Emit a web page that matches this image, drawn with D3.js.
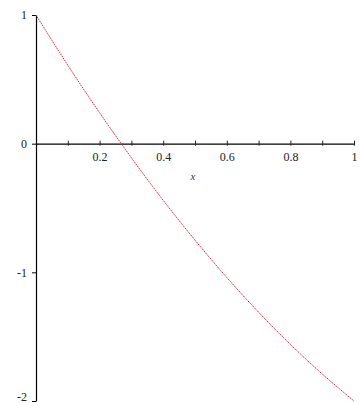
<!DOCTYPE html>
<html>
<head>
<meta charset="utf-8">
<script src="https://cdnjs.cloudflare.com/ajax/libs/d3/7.8.5/d3.min.js"></script>
<style>
  body { margin: 0; background: #fff; }
  svg { display: block; }
</style>
</head>
<body>
<svg></svg>
<script>
// values, every 0.1 in x
var xValues = [0, 0.1, 0.2, 0.3, 0.4, 0.5, 0.6, 0.7, 0.8, 0.9, 1];
var yValues = [1, 0.61, 0.24, -0.11, -0.44, -0.75, -1.04, -1.31, -1.56, -1.79, -2];

// ticks
var xTicks = [0.1, 0.2, 0.3, 0.4, 0.5, 0.6, 0.7, 0.8, 0.9, 1];
var xTickLabels = ["", "0.2", "", "0.4", "", "0.6", "", "0.8", "", "1"];
var yTicks = [1, 0, -1, -2];
var yTickLabels = ["1", "0", "-1", "-2"];
var xTitle = "x";

var width = 361;
var height = 403;
var svg = d3.select("svg");
svg.attr("width", width).attr("height", height);

var margin = {top: 15, right: 7, bottom: 2, left: 36};

var xScale = d3.scaleLinear().domain([0, 1]).range([margin.left, width - margin.right]);
var yScale = d3.scaleLinear().domain([-2, 1]).range([height - margin.bottom, margin.top]);

var font = "'Liberation Serif', 'Times New Roman', serif";

// x axis sits on y = 0
var xAxis = d3.axisBottom(xScale)
    .tickValues(xTicks)
    .tickFormat(function(d, i) { return xTickLabels[i]; })
    .tickSizeOuter(0);

var gx = svg.append("g")
    .attr("transform", "translate(0," + yScale(0) + ")")
    .call(xAxis);
gx.select(".domain").attr("stroke", "#000").attr("stroke-width", 1.2)
    .attr("d", "M" + xScale(0) + ",0.5H" + (xScale(1) + 1));
gx.selectAll(".tick line").attr("y1", -3).attr("y2", 2).attr("stroke", "#222");
gx.selectAll(".tick text")
    .attr("y", 9)
    .attr("font-family", font)
    .attr("font-size", 12)
    .attr("fill", "#222");

// y axis sits on x = 0
var yAxis = d3.axisLeft(yScale)
    .tickValues(yTicks)
    .tickFormat(function(d, i) { return yTickLabels[i]; })
    .tickSize(4)
    .tickPadding(5)
    .tickSizeOuter(0);

var gy = svg.append("g")
    .attr("transform", "translate(" + xScale(0) + ",0)")
    .call(yAxis);
gy.select(".domain").attr("stroke", "#000").attr("stroke-width", 1.2);
gy.selectAll(".tick text")
    .attr("font-family", font)
    .attr("font-size", 12)
    .attr("fill", "#222")
    // lowest label sits on the bottom edge, lift it so it is not cut
    .attr("dy", function(d) { return d === -2 ? "-0.05em" : "0.32em"; });

// axis title
svg.append("text")
    .attr("x", 193)
    .attr("y", 180)
    .attr("text-anchor", "middle")
    .attr("font-family", font)
    .attr("font-style", "italic")
    .attr("font-size", 11)
    .attr("fill", "#333")
    .text(xTitle);

// the curve
var pts = xValues.map(function(x, i) { return [x, yValues[i]]; });
var line = d3.line()
    .x(function(d) { return xScale(d[0]); })
    .y(function(d) { return yScale(d[1]); })
    .curve(d3.curveCatmullRom);

svg.append("path")
    .datum(pts)
    .attr("fill", "none")
    .attr("stroke", "#d0304c")
    .attr("stroke-width", 1)
    .attr("stroke-dasharray", "1.5,0.8")
    .attr("d", line);
</script>
</body>
</html>
